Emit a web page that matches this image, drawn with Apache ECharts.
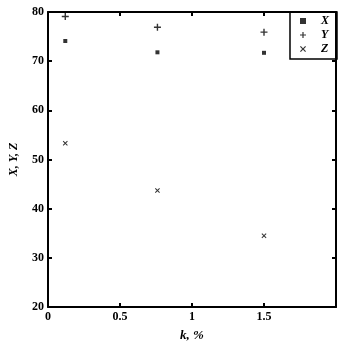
<!DOCTYPE html>
<html><head><meta charset="utf-8">
<script src="https://cdn.jsdelivr.net/npm/echarts@6/dist/echarts.min.js"></script>
<style>html,body{margin:0;padding:0;background:#fff}#c{width:342px;height:347px}</style>
</head><body><div id="c"></div>
<script>
const kValues = [0.12, 0.76, 1.5];
const seriesNames = ['X', 'Y', 'Z'];
const xValues = [74.1, 71.8, 71.7];
const yValues = [79.1, 76.9, 75.9];
const zValues = [53.3, 43.7, 34.5];
const xTickLabels = {0: '0', 0.5: '0.5', 1: '1', 1.5: '1.5', 2: ''};

const FONT = 'Liberation Serif';
const plusPath = 'path://M4,0h2v4h4v2h-4v4h-2v-4h-4v-2h4z';
const crossPath = 'path://M0,1.4L1.4,0L5,3.6L8.6,0L10,1.4L6.4,5L10,8.6L8.6,10L5,6.4L1.4,10L0,8.6L3.6,5Z';
const pairs = v => kValues.map((k, i) => [k, v[i]]);
const chart = echarts.init(document.getElementById('c'), null, {renderer: 'canvas'});
const axisBase = {
  axisLine: {show: true, onZero: false, lineStyle: {color: '#000', width: 2}},
  axisTick: {show: true, inside: true, length: 4, lineStyle: {color: '#000', width: 2}},
  splitLine: {show: false}
};
chart.setOption({
  animation: false,
  grid: {left: 44, top: 12, right: 6, bottom: 38},
  xAxis: [
    Object.assign({}, axisBase, {type: 'value', min: 0, max: 2, interval: 0.5, position: 'bottom',
      name: 'k, %', nameLocation: 'middle', nameGap: 22,
      nameTextStyle: {fontFamily: FONT, fontSize: 13, fontWeight: 'bold', fontStyle: 'italic', color: '#000'},
      axisLabel: {formatter: v => xTickLabels[v] !== undefined ? xTickLabels[v] : '', fontFamily: FONT, fontWeight: 'bold', fontSize: 12, color: '#000', margin: 4}}),
    Object.assign({}, axisBase, {type: 'value', min: 0, max: 2, interval: 0.5, position: 'top', axisLabel: {show: false}})
  ],
  yAxis: [
    Object.assign({}, axisBase, {type: 'value', min: 20, max: 80, interval: 10, position: 'left',
      name: 'X, Y, Z', nameLocation: 'middle', nameGap: 28,
      nameTextStyle: {fontFamily: FONT, fontSize: 12, fontWeight: 'bold', fontStyle: 'italic', color: '#000'},
      axisLabel: {fontFamily: FONT, fontWeight: 'bold', fontSize: 12, color: '#000', margin: 4}}),
    Object.assign({}, axisBase, {type: 'value', min: 20, max: 80, interval: 10, position: 'right', axisLabel: {show: false}})
  ],
  legend: {
    orient: 'vertical', right: 5, top: 12, width: 48,
    padding: [3, 8, 4, 10], itemGap: 2, itemWidth: 6, itemHeight: 6,
    borderColor: '#000', borderWidth: 1.5, borderRadius: 0,
    data: [
      {name: seriesNames[0], icon: 'rect'},
      {name: seriesNames[1], icon: plusPath},
      {name: seriesNames[2], icon: crossPath}
    ],
    textStyle: {fontFamily: FONT, fontSize: 12, fontWeight: 'bold', fontStyle: 'italic', color: '#000', padding: [0, 0, 0, 10]}
  },
  series: [
    {name: seriesNames[0], type: 'scatter', data: pairs(xValues), symbol: 'rect', symbolSize: 4, itemStyle: {color: '#000'}},
    {name: seriesNames[1], type: 'scatter', data: pairs(yValues), symbol: plusPath, symbolSize: 7, itemStyle: {color: '#000'}},
    {name: seriesNames[2], type: 'scatter', data: pairs(zValues), symbol: crossPath, symbolSize: 5, itemStyle: {color: '#000'}}
  ]
});
</script></body></html>
